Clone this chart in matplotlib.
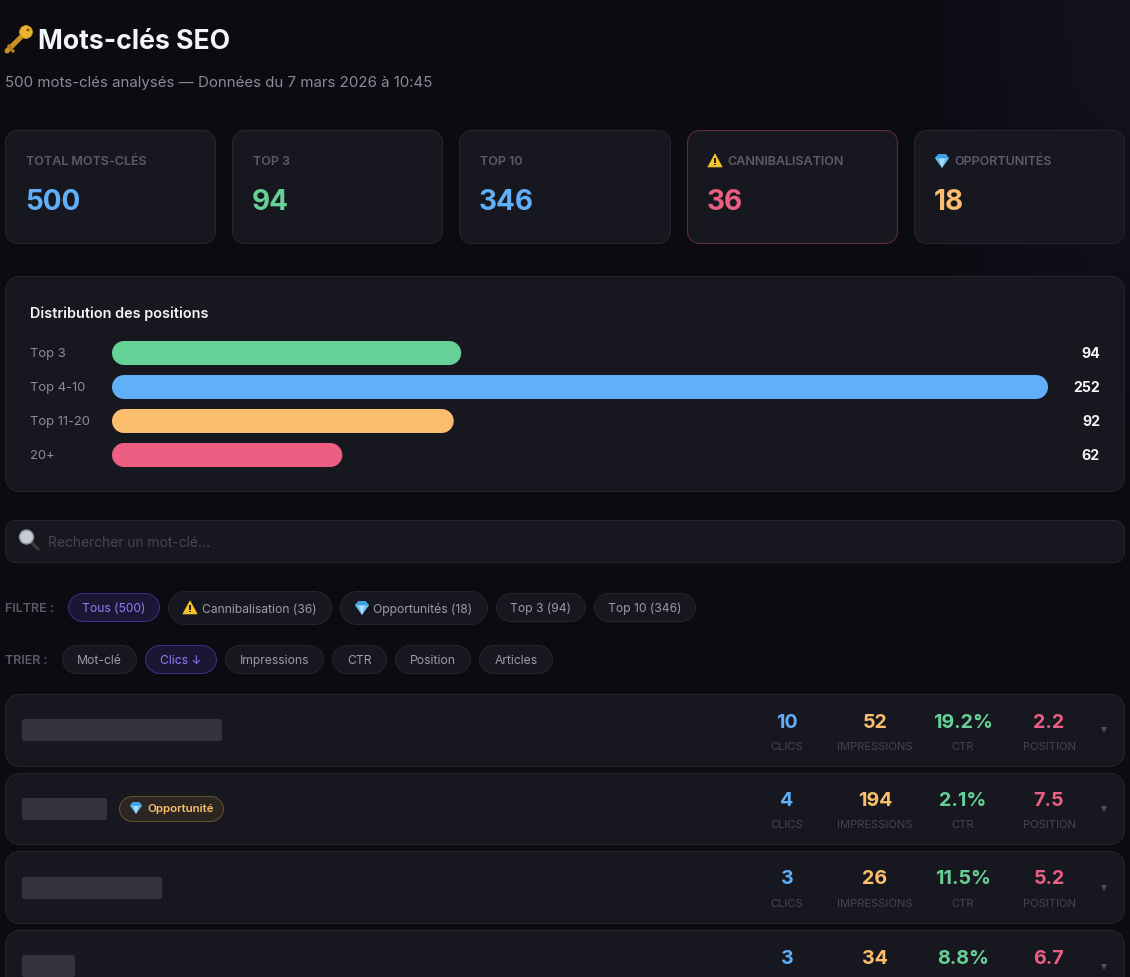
import numpy as np
import matplotlib
matplotlib.use("Agg")
import matplotlib.pyplot as plt
from matplotlib.patches import FancyBboxPatch, Polygon, Circle, Rectangle
from matplotlib.path import Path
from matplotlib.colors import LinearSegmentedColormap

# ---------- data ----------
stat_labels = ["TOTAL MOTS-CLÉS", "TOP 3", "TOP 10", "CANNIBALISATION", "OPPORTUNITÉS"]
stat_values = ["500", "94", "346", "36", "18"]
dist_labels = ["Top 3", "Top 4-10", "Top 11-20", "20+"]
dist_values = [94, 252, 92, 62]
filter_labels = ["Tous (500)", "Cannibalisation (36)", "Opportunités (18)", "Top 3 (94)", "Top 10 (346)"]
sort_labels = ["Mot-clé", "Clics ↓", "Impressions", "CTR", "Position", "Articles"]
row_clicks = ["10", "4", "3", "3"]
row_impressions = ["52", "194", "26", "34"]
row_ctr = ["19.2%", "2.1%", "11.5%", "8.8%"]
row_position = ["2.2", "7.5", "5.2", "6.7"]

BG = "#0b0b11"; CARD = "#17181f"; BORDER = "#24252d"
BLUE = "#60aff8"; GREEN = "#66d196"; ORANGE = "#fbbe6c"; PINK = "#ec5f82"
MUTED = "#8a8a9a"; DIM = "#5b5b6c"; DIMMER = "#45454f"; WHITE = "#f4f4f6"; PURPLE = "#8f7df5"

plt.rcParams["font.family"] = ["Inter", "DejaVu Sans"]
W, H = 1130, 977
fig = plt.figure(figsize=(W / 100, H / 100), dpi=100, facecolor=BG)
ax = fig.add_axes([0, 0, 1, 1])
ax.set_xlim(0, W); ax.set_ylim(H, 0); ax.axis("off")

# faint glow in the top-right corner
cmap = LinearSegmentedColormap.from_list("bg", [BG, "#12131f"])
gx, gy = np.meshgrid(np.linspace(0, 1, 113), np.linspace(0, 1, 98))
glow = np.clip(1 - np.hypot((1 - gx) * 4.5, gy * 1.8), 0, 1)
ax.imshow(glow, extent=(0, W, H, 0), cmap=cmap, vmin=0, vmax=1, aspect="auto", zorder=0)
ax.set_xlim(0, W); ax.set_ylim(H, 0)


def rounded(r):
    """Box style with true circular corners (the built-in 'round' uses flatter quadratic curves)."""
    k = r * (1 - 0.5523)

    def style(x, y, w, h, mutation_size):
        x1, y1 = x + w, y + h
        verts = [(x + r, y), (x1 - r, y), (x1 - k, y), (x1, y + k), (x1, y + r),
                 (x1, y1 - r), (x1, y1 - k), (x1 - k, y1), (x1 - r, y1),
                 (x + r, y1), (x + k, y1), (x, y1 - k), (x, y1 - r),
                 (x, y + r), (x, y + k), (x + k, y), (x + r, y), (x + r, y)]
        codes = [Path.MOVETO, Path.LINETO, Path.CURVE4, Path.CURVE4, Path.CURVE4,
                 Path.LINETO, Path.CURVE4, Path.CURVE4, Path.CURVE4,
                 Path.LINETO, Path.CURVE4, Path.CURVE4, Path.CURVE4,
                 Path.LINETO, Path.CURVE4, Path.CURVE4, Path.CURVE4, Path.CLOSEPOLY]
        return Path(verts, codes)
    return style


def box(x0, y0, x1, y1, r, fc=CARD, ec=BORDER, lw=0.75, z=1):
    ax.add_patch(FancyBboxPatch((x0 + .5, y0 + .5), x1 - x0 - 1, y1 - y0 - 1,
                                boxstyle=rounded(r), fc=fc, ec=ec, lw=lw, zorder=z))


def txt(x, y, s, size, color, weight="normal", ha="left"):
    ax.text(x, y, s, fontsize=size * 0.72, color=color, fontweight=weight, ha=ha, va="baseline", zorder=5)


def warn(x, y, s):
    ax.add_patch(Polygon([(x, y + s * .92), (x + s / 2, y), (x + s, y + s * .92)], closed=True,
                         fc="#f7c42e", ec="#f7c42e", lw=.6, joinstyle="round", zorder=6))
    ax.add_patch(Rectangle((x + s * .45, y + s * .3), s * .1, s * .34, fc="#2a2410", zorder=7))
    ax.add_patch(Rectangle((x + s * .45, y + s * .7), s * .1, s * .12, fc="#2a2410", zorder=7))


def gem(x, y, s):
    ax.add_patch(Polygon([(x, y + s * .3), (x + s * .25, y), (x + s * .75, y), (x + s, y + s * .3), (x + s / 2, y + s)],
                         closed=True, fc="#6cc0f4", ec="none", zorder=6))
    ax.add_patch(Polygon([(x + s * .28, y + s * .3), (x + s * .72, y + s * .3), (x + s / 2, y + s)],
                         closed=True, fc="#a8def9", ec="none", zorder=7))
    ax.add_patch(Polygon([(x, y + s * .3), (x + s * .25, y), (x + s * .75, y), (x + s, y + s * .3)],
                         closed=True, fc="#3d9fe0", ec="none", zorder=7))


# ---------- header ----------
ax.plot([7, 24], [51, 34], color="#c8901f", lw=3.6, solid_capstyle="round", zorder=6)
ax.plot([9, 13], [46, 51], color="#b57c16", lw=2.2, zorder=6)
ax.add_patch(Circle((26, 32), 6.4, fc="#eab42e", ec="#c8901f", lw=.6, zorder=7))
ax.add_patch(Circle((28, 30), 1.5, fc="#7a5510", zorder=8))
txt(38, 49, "Mots-clés SEO", 26.6, WHITE, "bold")
txt(5, 87, "500 mots-clés analysés — Données du 7 mars 2026 à 10:45", 15.05, MUTED)

# ---------- stat cards ----------
card_x = [(5, 216), (232, 443), (459, 671), (687, 898), (914, 1125)]
value_colors = [BLUE, GREEN, BLUE, PINK, ORANGE]
for i, (x0, x1) in enumerate(card_x):
    box(x0, 130, x1, 244, 12, ec="#5f2a3c" if i == 3 else BORDER)
    lx = x0 + 21
    if i == 3:
        warn(lx, 154, 14); lx += 19
    if i == 4:
        gem(lx, 154, 14); lx += 19
    txt(lx, 165, stat_labels[i], 12.6, DIM, "semibold")
    txt(x0 + 20, 210, stat_values[i], 28, value_colors[i], "bold")

# ---------- distribution ----------
box(5, 276, 1125, 492, 14)
txt(30, 318, "Distribution des positions", 14.4, WHITE, "semibold")

bar_ax = fig.add_axes([112 / W, 1 - 472 / H, 936 / W, 136 / H])
bar_ax.patch.set_alpha(0); bar_ax.axis("off")
bar_ax.set_xlim(0, max(dist_values)); bar_ax.set_ylim(len(dist_values) - .5, -.5)
x_per_px = max(dist_values) / 936; y_per_px = len(dist_values) / 136
bar_colors = [GREEN, BLUE, ORANGE, PINK]
for i, (lab, v) in enumerate(zip(dist_labels, dist_values)):
    h = 24 * y_per_px
    bar_ax.add_patch(FancyBboxPatch((0, i - h / 2), v, h, boxstyle=rounded(12 * x_per_px),
                                    mutation_aspect=y_per_px / x_per_px,
                                    fc=bar_colors[i], ec="none", clip_on=False))
    yc = 353 + 34 * i
    txt(30, yc + 4, lab, 13, MUTED)
    txt(1100, yc + 5, str(v), 14.2, WHITE, "bold", ha="right")

# ---------- search ----------
box(5, 520, 1125, 563, 10)
ax.plot([32, 38], [543, 549], color="#3a3a3a", lw=2.4, solid_capstyle="round", zorder=6)
ax.add_patch(Circle((26.5, 537), 7, fc="#c9ccd2", ec="#8d9096", lw=1, zorder=7))
txt(48, 547, "Rechercher un mot-clé...", 13.8, "#464653")

# ---------- filters ----------
txt(5, 612, "FILTRE :", 12.6, DIM, "semibold")
filter_x = [(68, 160, 593, 622), (168, 332, 591, 625), (340, 488, 591, 625), (496, 586, 593, 622), (594, 696, 593, 622)]
for i, (x0, x1, y0, y1) in enumerate(filter_x):
    active = i == 0
    box(x0, y0, x1, y1, (y1 - y0) / 2, fc="#1a1735" if active else CARD, ec="#3a3180" if active else BORDER)
    c = PURPLE if active else "#9a9aaa"
    if i == 1:
        warn(183, 601, 14)
        txt(202, 613, filter_labels[i], 12.15, c)
    elif i == 2:
        gem(355, 601, 14)
        txt(373, 613, filter_labels[i], 12.15, c)
    else:
        txt((x0 + x1) / 2, 612, filter_labels[i], 12.15, c, ha="center")

txt(5, 663.5, "TRIER :", 12.6, DIM, "semibold")
sort_x = [(62, 137), (145, 217), (225, 324), (332, 387), (395, 471), (479, 553)]
for i, (x0, x1) in enumerate(sort_x):
    active = i == 1
    box(x0, 645, x1, 674, 14.5, fc="#1a1735" if active else CARD, ec="#3a3180" if active else BORDER)
    txt((x0 + x1) / 2, 664, sort_labels[i], 12.15, PURPLE if active else "#9a9aaa", ha="center")

# ---------- rows ----------
row_y = [(694, 767), (773, 845), (851, 924), (930, 1003)]
ph_w = [200, 85, 140, 53]
ph_y = [719, 798, 877, 955]
value_y = [727.5, 805.5, 884.5, 963.5]
label_y = [750, 828, 907, None]  # the fourth row's labels fall below the visible page
chevron_y = [730, 809, 888, 967]
col_x = [787, 875, 963, 1049]
col_names = ["CLICS", "IMPRESSIONS", "CTR", "POSITION"]
col_colors = [BLUE, ORANGE, GREEN, PINK]
columns = [row_clicks, row_impressions, row_ctr, row_position]
for r, (y0, y1) in enumerate(row_y):
    box(5, y0, 1125, y1, 14)
    ax.add_patch(FancyBboxPatch((22, ph_y[r]), ph_w[r], 22, boxstyle=rounded(2.5),
                                fc="#33343e", ec="none", zorder=3))
    for c in range(4):
        txt(col_x[c], value_y[r], columns[c][r], 19.6, col_colors[c], "bold", ha="center")
        if label_y[r] is not None:
            txt(col_x[c], label_y[r], col_names[c], 11.2, DIMMER, ha="center")
    ty = chevron_y[r]
    ax.add_patch(Polygon([(1101, ty - 3), (1107, ty - 3), (1104, ty + 3)], closed=True, fc="#4f4f5a", ec="none", zorder=5))

box(119, 796, 224, 822, 13, fc="#2c2622", ec="#65502f", z=3)
gem(130, 802, 12)
txt(147, 812, "Opportunité", 11.5, ORANGE, "semibold")

fig.savefig("out.png", dpi=100, facecolor=BG)
